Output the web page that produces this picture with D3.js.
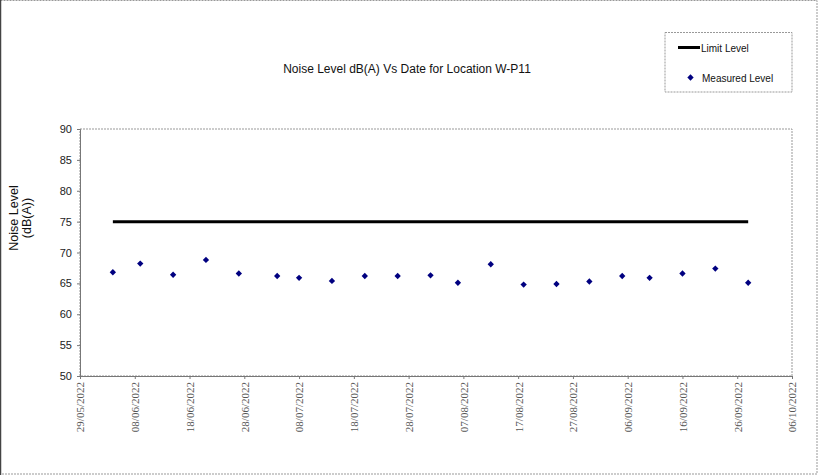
<!DOCTYPE html>
<html><head><meta charset="utf-8">
<script src="https://cdn.jsdelivr.net/npm/d3@7"></script>
<style>
html,body{margin:0;padding:0;background:#fff;}
svg{display:block;}
</style></head>
<body>
<script>
const dates = ["04/06/2022","09/06/2022","15/06/2022","21/06/2022","27/06/2022","04/07/2022","08/07/2022","14/07/2022","20/07/2022","26/07/2022","01/08/2022","06/08/2022","12/08/2022","18/08/2022","24/08/2022","30/08/2022","05/09/2022","10/09/2022","16/09/2022","22/09/2022","28/09/2022"];
const measured = [66.8,68.2,66.4,68.8,66.6,66.2,65.9,65.4,66.2,66.2,66.3,65.1,68.1,64.8,64.9,65.3,66.2,65.9,66.6,67.4,65.1];
const limit = [75,75,75,75,75,75,75,75,75,75,75,75,75,75,75,75,75,75,75,75,75];
const xTickLabels = ["29/05/2022","08/06/2022","18/06/2022","28/06/2022","08/07/2022","18/07/2022","28/07/2022","07/08/2022","17/08/2022","27/08/2022","06/09/2022","16/09/2022","26/09/2022","06/10/2022"];
const yTicks = [50,55,60,65,70,75,80,85,90];
const title = "Noise Level dB(A) Vs Date for Location W-P11";

const parse = d3.timeParse("%d/%m/%Y");
const W = 821, H = 476;
const L = 80, R = 792, T = 129, B = 376;

const svg = d3.select("body").append("svg").attr("width", W).attr("height", H);

// outer border
svg.append("rect").attr("x",0.5).attr("y",0.5).attr("width",816.5).attr("height",473.5)
  .attr("fill","none").attr("stroke","#999").attr("stroke-dasharray","2,1");
svg.append("line").attr("x1",0.5).attr("x2",0.5).attr("y1",0).attr("y2",475)
  .attr("stroke","#444").attr("stroke-width",1.5);

const x = d3.scaleTime().domain([parse(xTickLabels[0]), parse(xTickLabels[xTickLabels.length-1])]).range([L, R]);
const y = d3.scaleLinear().domain([50, 90]).range([B, T]);

// plot frame
svg.append("rect").attr("x",L).attr("y",T).attr("width",R-L).attr("height",B-T)
  .attr("fill","none").attr("stroke","#999").attr("stroke-dasharray","2,1");

// y axis
const yAxis = d3.axisLeft(y).tickValues(yTicks).tickSize(3).tickPadding(5);
const gy = svg.append("g").attr("transform",`translate(${L},0)`).call(yAxis);
gy.select(".domain").attr("stroke","#777");
gy.selectAll(".tick line").attr("stroke","#777");
gy.selectAll("text").attr("font-family","Liberation Sans, Arial, sans-serif").attr("font-size","11px").attr("fill","#222");

// x axis
const xAxis = d3.axisBottom(x).tickValues(xTickLabels.map(parse)).tickSize(3).tickFormat(d3.timeFormat("%d/%m/%Y"));
const gx = svg.append("g").attr("transform",`translate(0,${B})`).call(xAxis);
gx.select(".domain").attr("stroke","#777");
gx.selectAll(".tick line").attr("stroke","#777");
gx.selectAll("text")
  .attr("font-family","Liberation Serif, Times New Roman, serif").attr("font-size","11px").attr("fill","#555")
  .attr("transform","rotate(-90)")
  .attr("text-anchor","end")
  .attr("x",-6).attr("y",0).attr("dy","0.35em");

// limit line
const pts = dates.map((d,i)=>({d:parse(d), m:measured[i], l:limit[i]}));
svg.append("path").datum(pts)
  .attr("d", d3.line().x(p=>x(p.d)).y(p=>y(p.l)))
  .attr("fill","none").attr("stroke","#000").attr("stroke-width",3);

// measured points (diamonds)
const diamond = d3.symbol().type(d3.symbolSquare).size(20);
svg.append("g").selectAll("path").data(pts).join("path")
  .attr("d", diamond)
  .attr("transform", p=>`translate(${x(p.d)},${y(p.m)}) rotate(45)`)
  .attr("fill","#000080");

// title
svg.append("text").attr("x",407).attr("y",73).attr("text-anchor","middle")
  .attr("font-family","Liberation Sans, Arial, sans-serif").attr("font-size","12px").attr("fill","#111")
  .text(title);

// y label
const yl = svg.append("text").attr("transform","translate(18,218) rotate(-90)")
  .attr("text-anchor","middle")
  .attr("font-family","Liberation Sans, Arial, sans-serif").attr("font-size","12.5px").attr("fill","#111");
yl.append("tspan").attr("x",0).attr("dy","0").text("Noise Level");
yl.append("tspan").attr("x",0).attr("dy","12.5").text("(dB(A))");

// legend
const lg = svg.append("g");
lg.append("rect").attr("x",665).attr("y",32.5).attr("width",127).attr("height",59.5)
  .attr("fill","#fff").attr("stroke","#999").attr("stroke-dasharray","2,1");
lg.append("line").attr("x1",678).attr("x2",700).attr("y1",47.5).attr("y2",47.5)
  .attr("stroke","#000").attr("stroke-width",3);
lg.append("text").attr("x",701).attr("y",51.5)
  .attr("font-family","Liberation Sans, Arial, sans-serif").attr("font-size","10px").attr("fill","#111")
  .text("Limit Level");
lg.append("path").attr("d",diamond).attr("transform","translate(690.5,77.5) rotate(45)").attr("fill","#000080");
lg.append("text").attr("x",702).attr("y",81.5)
  .attr("font-family","Liberation Sans, Arial, sans-serif").attr("font-size","10px").attr("fill","#111")
  .text("Measured Level");
</script>
</body></html>
